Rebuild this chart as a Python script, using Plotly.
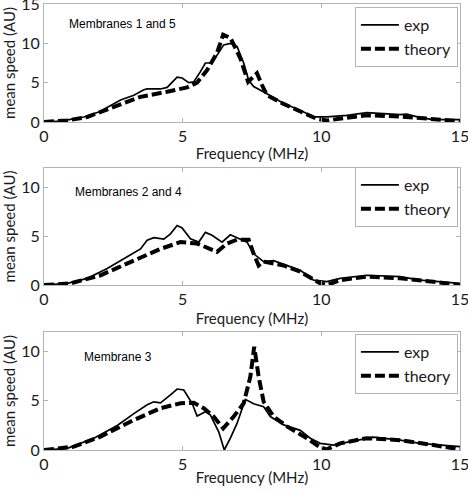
import plotly.graph_objects as go

# ---------------- data ----------------
# Membranes 1 and 5
f_exp_15 = [0, 0.6, 1.44, 2.0, 2.76, 3.24, 3.6, 3.72, 4.2, 4.44, 4.8, 4.98, 5.22, 5.4, 5.64, 5.82, 6.06, 6.24,
            6.48, 6.72, 6.96, 7.2, 7.38, 7.56, 8.04, 8.64, 9.24, 9.72, 10.2, 10.92, 11.64, 12.24, 12.84, 13.08,
            13.56, 14.04, 15]
v_exp_15 = [0, 0.1, 0.64, 1.3, 2.8, 3.4, 4.1, 4.2, 4.2, 4.4, 5.7, 5.6, 5.0, 5.1, 6.4, 7.5, 7.5, 8.5,
            9.8, 10.0, 9.6, 7.5, 5.3, 4.5, 3.6, 2.35, 1.5, 0.64, 0.64, 0.85, 1.2, 1.07, 0.94, 1.0,
            0.55, 0.3, 0.3]
f_th_15 = [0, 0.84, 1.56, 2.64, 3.48, 4.44, 5.16, 5.52, 5.88, 6.24, 6.46, 6.72, 7.08, 7.36, 7.68, 7.86,
           8.04, 8.64, 9.24, 9.84, 10.2, 10.44, 11.64, 12.84, 14.04, 15]
v_th_15 = [0, 0.2, 0.64, 2.1, 3.2, 3.85, 4.4, 5.0, 6.6, 8.8, 11.1, 10.7, 8.1, 5.1, 6.2, 4.7,
           3.4, 2.3, 1.3, 0.4, 0.2, 0.3, 0.85, 0.7, 0.3, 0.1]

# Membranes 2 and 4
f_exp_24 = [0, 0.84, 1.56, 2.28, 3.0, 3.48, 3.72, 3.96, 4.32, 4.56, 4.8, 4.98, 5.28, 5.58, 5.82, 6.06,
            6.42, 6.72, 6.96, 7.32, 7.56, 7.92, 8.28, 8.64, 9.24, 9.72, 10.2, 10.68, 11.64, 12.84, 13.56, 15]
v_exp_24 = [0, 0.17, 0.68, 1.7, 2.9, 3.7, 4.6, 4.85, 4.7, 5.25, 6.1, 5.85, 4.75, 4.4, 5.4, 5.1,
            4.4, 5.15, 4.85, 4.4, 3.2, 2.4, 2.5, 2.1, 1.5, 0.5, 0.34, 0.68, 1.0, 0.85, 0.5, 0.17]
f_th_24 = [0, 0.96, 2.04, 3.24, 4.2, 4.92, 5.52, 6.24, 6.6, 6.96, 7.38, 7.56, 7.74, 7.92, 8.64, 9.24,
           9.96, 10.2, 10.68, 11.64, 12.84, 14.04, 15]
v_th_24 = [0, 0.17, 1.0, 2.5, 3.7, 4.4, 4.25, 3.4, 4.25, 4.65, 4.65, 3.2, 2.0, 2.4, 2.0, 1.36,
           0.17, 0.0, 0.5, 0.85, 0.68, 0.34, 0.0]

# Membrane 3
f_exp_3 = [0, 0.84, 1.8, 2.64, 3.24, 3.72, 3.96, 4.2, 4.56, 4.8, 5.04, 5.34, 5.52, 5.82, 6.0, 6.3, 6.5,
           6.72, 6.96, 7.26, 7.56, 7.92, 8.16, 8.64, 9.24, 9.6, 9.96, 10.44, 11.04, 11.88, 12.84, 13.56, 15]
v_exp_3 = [0, 0.17, 1.2, 2.5, 3.7, 4.6, 4.9, 4.8, 5.6, 6.2, 6.1, 4.75, 3.45, 3.9, 3.55, 1.85, 0.0,
           1.2, 2.7, 5.15, 4.7, 4.4, 3.4, 2.55, 2.0, 1.2, 0.68, 0.5, 0.85, 1.3, 1.0, 0.68, 0.34]
f_th_3 = [0, 1.08, 2.04, 3.24, 4.2, 4.92, 5.4, 5.76, 6.12, 6.46, 6.84, 7.2, 7.44, 7.58, 7.74, 7.92,
          8.28, 8.76, 9.48, 9.96, 10.2, 10.68, 11.64, 12.84, 14.04, 15]
v_th_3 = [0, 0.34, 1.36, 3.05, 4.25, 4.75, 4.8, 4.25, 3.4, 2.2, 3.4, 4.75, 7.45, 10.5, 7.45, 4.9,
          3.4, 2.4, 1.2, 0.27, 0.07, 0.68, 1.2, 1.0, 0.5, 0.07]

x_ticks = [0, 5, 10, 15]
panel_labels = ["Membranes 1 and 5", "Membranes 2 and 4", "Membrane 3"]
y_ranges = [[0, 15], [0, 12], [0, 12]]
y_ticks = [[0, 5, 10, 15], [0, 5, 10], [0, 5, 10]]

panels = [
    (f_exp_15, v_exp_15, f_th_15, v_th_15),
    (f_exp_24, v_exp_24, f_th_24, v_th_24),
    (f_exp_3, v_exp_3, f_th_3, v_th_3),
]

# ---------------- figure ----------------
W, H = 468, 491
ml, mr, mt, mb = 44, 8, 4, 41
ph = H - mt - mb
px_boxes = [(4, 122), (168, 285), (332, 450)]
domains = [[(H - mb - b) / ph, (H - mb - t) / ph] for (t, b) in px_boxes]

fig = go.Figure()
axis_grey = "#b4b4b4"
text_col = "#1a1a1a"
legend_names = ["legend", "legend2", "legend3"]
legend_tops_px = [7, 167, 334]
x_title_standoff = [4, 6, 0]

for i, (fe, ve, ft, vt) in enumerate(panels):
    xa = "x" if i == 0 else f"x{i+1}"
    ya = "y" if i == 0 else f"y{i+1}"
    fig.add_trace(go.Scatter(x=fe, y=ve, mode="lines", name="exp",
                             line=dict(color="black", width=1.7),
                             xaxis=xa, yaxis=ya, legend=legend_names[i]))
    fig.add_trace(go.Scatter(x=ft, y=vt, mode="lines", name="theory",
                             line=dict(color="black", width=4, dash="10px,4px"),
                             xaxis=xa, yaxis=ya, legend=legend_names[i]))

    axis_common = dict(showline=True, linecolor=axis_grey, linewidth=1, mirror="ticks",
                       ticks="inside", ticklen=4, tickcolor=axis_grey, showgrid=False,
                       zeroline=False, automargin=False, ticklabeloverflow="allow",
                       tickfont=dict(family="Lato", size=16, color=text_col))
    xkey = "xaxis" if i == 0 else f"xaxis{i+1}"
    ykey = "yaxis" if i == 0 else f"yaxis{i+1}"
    fig.update_layout(**{
        xkey: dict(axis_common, range=[0, 15], tickvals=x_ticks, anchor=ya, domain=[0, 1],
                   title=dict(text="Frequency (MHz)", standoff=x_title_standoff[i],
                              font=dict(family="Lato", size=15, color=text_col))),
        ykey: dict(axis_common, range=y_ranges[i], tickvals=y_ticks[i], anchor=xa,
                   domain=domains[i],
                   title=dict(text="mean speed (AU)", standoff=2,
                              font=dict(family="Lato", size=15, color=text_col))),
    })
    ly = (H - mb - legend_tops_px[i]) / ph
    fig.update_layout(**{legend_names[i]: dict(
        x=0.995, y=ly, xanchor="right", yanchor="top",
        bordercolor=axis_grey, borderwidth=1, bgcolor="white",
        font=dict(family="Lato", size=16, color=text_col),
        tracegroupgap=0, itemwidth=38)})

ann_pos = [(67, 24), (73, 192), (82, 357)]
for i, (px, py) in enumerate(ann_pos):
    fig.add_annotation(x=(px - ml) / (W - ml - mr), y=(H - mb - py) / ph,
                       xref="paper", yref="paper", xanchor="left", yanchor="middle",
                       text=panel_labels[i], showarrow=False,
                       font=dict(family="Liberation Sans", size=12, color="black"))

fig.update_layout(width=W, height=H, margin=dict(l=ml, r=mr, t=mt, b=mb),
                  plot_bgcolor="white", paper_bgcolor="white", showlegend=True)

fig.write_html("out.html", config={"displayModeBar": False},
               post_script="document.body.style.margin='0px';document.body.style.padding='0px';")
